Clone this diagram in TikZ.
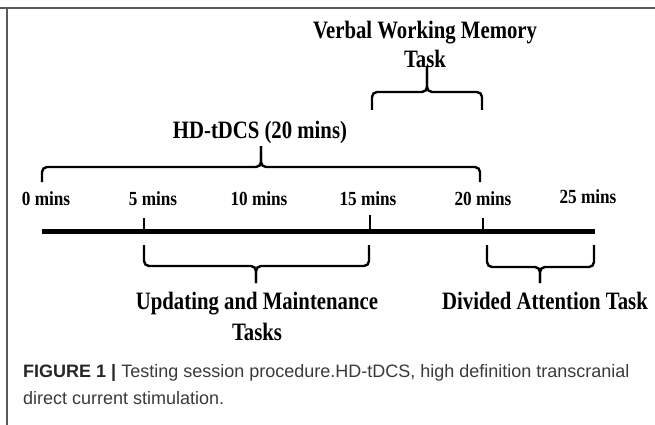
\documentclass[tikz,border=0pt]{standalone}
\usepackage{fontspec}
\setmainfont{Liberation Serif}
\newfontfamily\tnrc[FakeStretch=0.83]{Liberation Serif}
\newfontfamily\tnrt[FakeStretch=0.86]{Liberation Serif}
\newfontfamily\capfont{Liberation Sans}
\definecolor{framegray}{HTML}{5A5A5A}
\definecolor{captext}{HTML}{3A3A3A}
\begin{document}
\begin{tikzpicture}[x=1pt,y=-1pt,
  title/.style={font=\tnrc\bfseries\fontsize{25}{29}\selectfont, inner sep=0pt, align=center, anchor=base},
  timelabel/.style={font=\tnrt\bfseries\fontsize{20}{22}\selectfont, inner sep=0pt, anchor=base},
  bracepath/.style={line width=2.4pt, rounded corners=5pt},
  tickline/.style={line width=2.6pt},
  axis/.style={line width=5pt}]
\useasboundingbox (0,0) rectangle (655,425);
% frame
\draw[framegray, line width=1.6pt] (0,8) -- (655,8);
\draw[framegray, line width=1.6pt] (7,8) -- (7,425);
% texts (base anchor = baseline of the last line)
\node[title] (vwm) at (425,68) {Verbal Working Memory\\Task};
\node[title] (hd) at (260,138) {HD-tDCS (20 mins)};
\node[timelabel] (m0) at (46,205) {0 mins};
\node[timelabel] (m5) at (153,205) {5 mins};
\node[timelabel] (m10) at (259,205) {10 mins};
\node[timelabel] (m15) at (368,205) {15 mins};
\node[timelabel] (m20) at (483,205) {20 mins};
\node[timelabel] (m25) at (588,203) {25 mins};
\node[title, font=\tnrc\bfseries\fontsize{25}{31}\selectfont] (upd) at (257,340) {Updating and Maintenance\\Tasks};
\node[title] (div) at (545,309) {Divided Attention Task};
% timeline
\coordinate (a0) at (42,231);
\coordinate (a25) at (595,231);
\draw[axis] (a0) -- (a25);
\coordinate (k5) at (144,231);
\coordinate (k15) at (370,231);
\coordinate (k20) at (483,231);
\draw[tickline] (k5) -- ++(0,-13);
\draw[tickline] (k15) -- ++(0,-16);
\draw[tickline] (k20) -- ++(0,-13);
% Verbal brace
\draw[bracepath] (372,110) -- (372,92) -- (427,92) -- (427,66);
\draw[bracepath] (482,110) -- (482,92) -- (427,92) -- (427,66);
% HD brace
\draw[bracepath] (42,182) -- (42,167) -- (261,167) -- (261,146);
\draw[bracepath] (480,182) -- (480,167) -- (261,167) -- (261,146);
% Updating brace
\draw[bracepath] (144,245) -- (144,266) -- (256,266) -- (256,283);
\draw[bracepath] (369,245) -- (369,266) -- (256,266) -- (256,283);
% Divided brace
\draw[bracepath] (487,245) -- (487,267) -- (540,267) -- (540,283);
\draw[bracepath] (594,245) -- (594,267) -- (540,267) -- (540,283);
% caption
\node[font=\capfont\fontsize{18}{27}\selectfont, color=captext, inner sep=0pt, anchor=base west, align=left] (cap) at (23,404)
  {{\bfseries\color{black!85}FIGURE 1 |} Testing session procedure.HD-tDCS, high definition transcranial\\direct current stimulation.};
\end{tikzpicture}
\end{document}
